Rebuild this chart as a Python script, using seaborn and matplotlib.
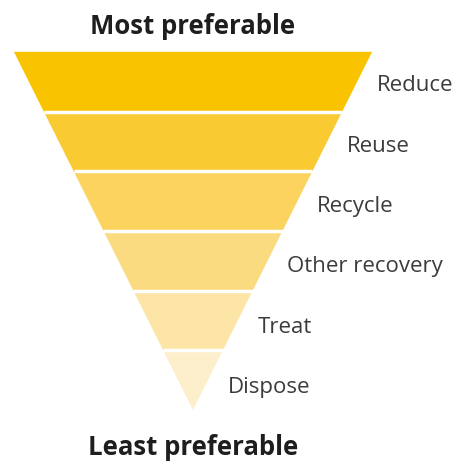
import numpy as np
import matplotlib
matplotlib.use('agg')
import matplotlib.pyplot as plt
import seaborn as sns

levels = ["Reduce", "Reuse", "Recycle", "Other recovery", "Treat", "Dispose"]
rank = [6, 5, 4, 3, 2, 1]  # top of each band, apex at 0
band_colors = ["#F9C300", "#FACA33", "#FBD35E", "#FBDB80", "#FCE5A6", "#FDEFCB"]
top_label = "Most preferable"
bottom_label = "Least preferable"

if __name__ == '__main__':
    sns.set_theme(style="white")
    plt.rcParams['font.family'] = ['Open Sans', 'DejaVu Sans']

    fig = plt.figure(figsize=(4.61, 4.61), dpi=100)
    ax = fig.add_axes([0, 0, 1, 1])

    # inverted triangle: half width = 0.5 * height above apex
    for name, top, col in zip(levels, rank, band_colors):
        bot = top - 1
        xs = [-0.5 * top, 0.5 * top, 0.5 * bot, -0.5 * bot]
        ys = [top, top, bot, bot]
        ax.fill(xs, ys, color=col, linewidth=0)
        if bot > 0:
            ax.plot([-0.5 * bot, 0.5 * bot], [bot, bot], color="white", lw=2.5,
                    solid_capstyle='butt')
        yc = top - 0.5
        ax.text(0.5 * yc + 0.33, yc - 0.07 - 0.01 * (6 - top), name, ha="left", va="center",
                fontsize=16, color="#3c3c3c")

    ax.text(0, 6.42, top_label, ha="center", va="center", fontsize=18.5,
            fontweight="bold", color="#1e1e1e")
    ax.text(0, -0.62, bottom_label, ha="center", va="center", fontsize=18.5,
            fontweight="bold", color="#1e1e1e")

    ax.set_xlim(-3.233, 4.489)
    ax.set_ylim(-0.854, 6.868)
    ax.axis("off")

    plt.savefig('out.png', dpi=100, facecolor="white")
